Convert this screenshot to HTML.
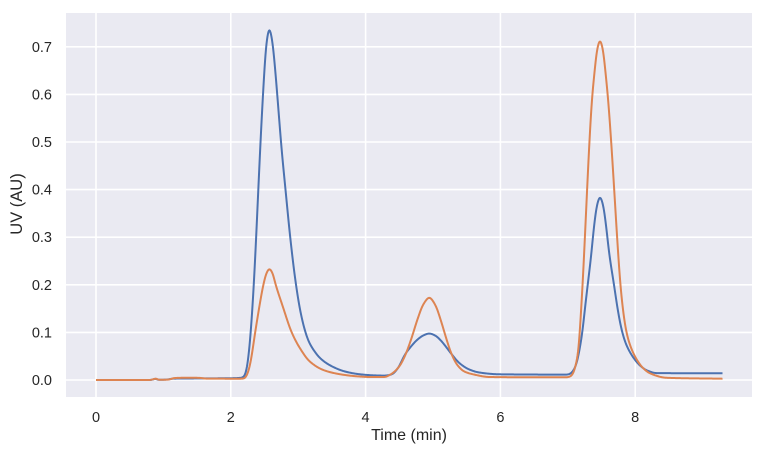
<!DOCTYPE html>
<html><head><meta charset="utf-8">
<style>
html,body{margin:0;padding:0;background:#fff;}
svg{display:block;}
text{font-family:"Liberation Sans",Arial,sans-serif;fill:#262626;}
</style></head>
<body>
<svg id="c" width="764" height="456" viewBox="0 0 764 456" xmlns="http://www.w3.org/2000/svg">
<rect x="0" y="0" width="764" height="456" fill="#ffffff"/>
<rect x="66" y="13" width="686" height="384" fill="#EAEAF2"/>
<g stroke="#ffffff" stroke-width="1.6">
<line x1="66" x2="752" y1="380" y2="380"/>
<line x1="66" x2="752" y1="332.4" y2="332.4"/>
<line x1="66" x2="752" y1="284.8" y2="284.8"/>
<line x1="66" x2="752" y1="237.2" y2="237.2"/>
<line x1="66" x2="752" y1="189.6" y2="189.6"/>
<line x1="66" x2="752" y1="142" y2="142"/>
<line x1="66" x2="752" y1="94.4" y2="94.4"/>
<line x1="66" x2="752" y1="46.8" y2="46.8"/>
<line y1="13" y2="397" x1="96" x2="96"/>
<line y1="13" y2="397" x1="230.8" x2="230.8"/>
<line y1="13" y2="397" x1="365.6" x2="365.6"/>
<line y1="13" y2="397" x1="500.4" x2="500.4"/>
<line y1="13" y2="397" x1="635.2" x2="635.2"/>
</g>
<path id="pb" fill="none" stroke="#4C72B0" stroke-width="2" stroke-linejoin="round"/>
<path id="po" fill="none" stroke="#DD8452" stroke-width="2" stroke-linejoin="round"/>
<g font-size="14.5" text-anchor="end">
<text x="52" y="385">0.0</text>
<text x="52" y="337.4">0.1</text>
<text x="52" y="289.8">0.2</text>
<text x="52" y="242.2">0.3</text>
<text x="52" y="194.6">0.4</text>
<text x="52" y="147">0.5</text>
<text x="52" y="99.4">0.6</text>
<text x="52" y="51.8">0.7</text>
</g>
<g font-size="14.5" text-anchor="middle">
<text x="96" y="422">0</text>
<text x="230.8" y="422">2</text>
<text x="365.6" y="422">4</text>
<text x="500.4" y="422">6</text>
<text x="635.2" y="422">8</text>
</g>
<text x="409" y="440" font-size="16" text-anchor="middle">Time (min)</text>
<text transform="translate(22,204) rotate(-90)" font-size="16.5" text-anchor="middle">UV (AU)</text>
</svg>
<script>
(function(){
function pchip(P){
  var n=P.length,x=[],y=[],h=[],d=[],m=[];
  for(var i=0;i<n;i++){x.push(P[i][0]);y.push(P[i][1]);}
  for(i=0;i<n-1;i++){h.push(x[i+1]-x[i]);d.push((y[i+1]-y[i])/h[i]);}
  m[0]=d[0];m[n-1]=d[n-2];
  for(i=1;i<n-1;i++){
    if(d[i-1]*d[i]<=0){m[i]=0;}
    else{var w1=2*h[i]+h[i-1],w2=h[i]+2*h[i-1];m[i]=(w1+w2)/(w1/d[i-1]+w2/d[i]);}
  }
  if(d[0]*m[0]<=0)m[0]=0; if(d[n-2]*m[n-1]<=0)m[n-1]=0;
  return function(t){
    if(t<=x[0])return y[0]; if(t>=x[n-1])return y[n-1];
    var k=0; while(k<n-2 && t>x[k+1])k++;
    var hh=h[k],s=(t-x[k])/hh,s2=s*s,s3=s2*s;
    return (2*s3-3*s2+1)*y[k]+(s3-2*s2+s)*hh*m[k]+(-2*s3+3*s2)*y[k+1]+(s3-s2)*hh*m[k+1];
  };
}
var B=[[96,380],[150,380],[153,379.5],[155.5,378.6],[158,379.8],[166,379.6],[174,378.6],[200,378.4],[232,378.2],[240,377.9],
[243.5,377],[246,372],[248.3,358],[250.7,332.4],[253.5,290],[255.8,245],[258.3,189.6],[260.8,136],[263.3,89],[266.3,44],[269.3,28.5],
[272.3,41],[275.3,71],[278.3,108],[281.5,148],[285.5,189.6],[290.5,240],[296,284.8],[300.5,312],[305.5,332.4],[309,342],[313.3,349.5],[320,358],[330,365.3],[345,371.5],[360,374.3],[375,375.4],[385,375.6],
[392,374.2],[398,368],[405,354.5],[411,346.5],[417,340],[423,335.6],[429.3,333.5],[435.3,335.6],[441.3,341],[447.3,348.5],[451.7,354.3],[459.3,363],[469.3,369.5],[479.3,372.5],[499.3,374.3],
[560,374.6],[567,374.6],[570,373.8],[573,371],[576,365],[578.5,355],[580.5,344],[582.3,332.4],[585,308],[587.7,284.8],[591,257],[594,226.5],[597,205],[600,196.8],[603,204.5],[606,225],[609,252],[614,284.8],[617.8,310],[621.7,330],[626,344],[633.3,357.5],[640,365.5],[646.7,370.3],[656.7,373.1],[722.7,373.3]];
var O=[[96,380],[150,380],[153,379.3],[156,378.6],[159,379.8],[168,379.6],[175,378],[190,377.7],[200,377.9],[206,378.6],[240,378.7],[244,378.5],
[246.7,375.5],[249,369],[251.5,357],[254.3,338],[257.3,319],[260.3,301],[263.3,285],[266.3,273.5],[269.3,268.8],
[272.3,272.5],[275.7,284.8],[282.3,305],[291.7,332.4],[300,348.3],[310,361.7],[323.3,370],[335,373.3],[345,375],[356.7,376.3],[370,377],[384.3,377],
[391.3,374],[399.3,366.4],[405.3,355.1],[411.7,337.6],[417.3,319.9],[423.3,304.4],[429.3,297.6],[435.3,305],[441.3,321.9],[446,337.6],[451.3,353.4],[457.3,365],[464.3,371.5],[474.3,374.6],[489.3,377],
[540,377.3],[566,377.3],[568.5,377],[571,376],[573.5,372.5],[576,364],[578.2,352],[579.5,337],[580.5,320],[582.6,284.8],[584.9,237.2],[587.1,189.6],[589.4,142],[592.3,94.4],[594,77.5],[597,50],[600,40.2],[603,50],[606,77.5],[607.7,94.4],[611.2,142],[614.2,189.6],[617.1,237.2],[620.4,284.8],[623,310],[626,330],[630,345],[636.7,359.5],[643,368],[650,373.3],[666.7,377.8],[722.7,378.7]];
function build(P){
  var f=pchip(P),xs=[],ys=[];
  for(var x=96;x<=722.7001;x+=0.5){xs.push(x);ys.push(f(x));}
  var n=ys.length,sm=[],K=[],R=6,sig=2;
  for(var k=-R;k<=R;k++)K.push(Math.exp(-k*k/(2*sig*sig)));
  for(var i=0;i<n;i++){
    var s=0,w=0;
    for(k=-R;k<=R;k++){var j=i+k;if(j<0)j=0;if(j>=n)j=n-1;s+=K[k+R]*ys[j];w+=K[k+R];}
    sm.push(s/w);
  }
  var d='';
  for(i=0;i<n;i++)d+=(i?'L':'M')+xs[i].toFixed(1)+' '+sm[i].toFixed(2);
  return d;
}
document.getElementById('pb').setAttribute('d',build(B));
document.getElementById('po').setAttribute('d',build(O));
})();
</script>
</body></html>
